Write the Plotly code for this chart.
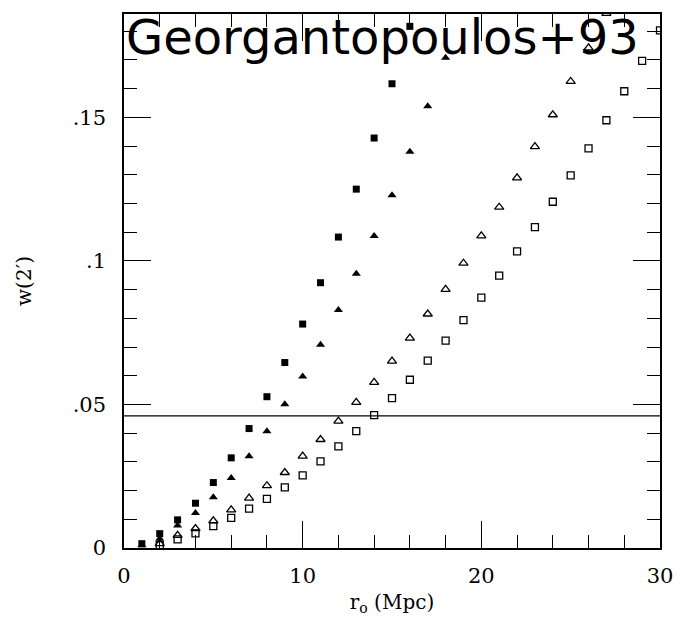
import plotly.graph_objects as go

# r_o (Mpc) values
x_fsq = [1, 2, 3, 4, 5, 6, 7, 8, 9, 10, 11, 12, 13, 14, 15, 16]
y_fsq = [0.0015, 0.0050, 0.0098, 0.0156, 0.0228, 0.0314, 0.0416, 0.0527, 0.0646, 0.0780,
         0.0924, 0.1083, 0.1250, 0.1428, 0.1617, 0.1817]

x_ftri = [1, 2, 3, 4, 5, 6, 7, 8, 9, 10, 11, 12, 13, 14, 15, 16, 17, 18]
y_ftri = [0.0010, 0.0032, 0.0078, 0.0122, 0.0177, 0.0244, 0.0320, 0.0407, 0.0501, 0.0597,
          0.0708, 0.0829, 0.0955, 0.1087, 0.1229, 0.1380, 0.1539, 0.1708]

x_otri = [2, 3, 4, 5, 6, 7, 8, 9, 10, 11, 12, 13, 14, 15, 16, 17, 18, 19, 20, 21, 22, 23,
          24, 25, 26, 27]
y_otri = [0.0015, 0.0044, 0.0068, 0.0095, 0.0133, 0.0174, 0.0217, 0.0263, 0.0320, 0.0378,
          0.0442, 0.0507, 0.0577, 0.0651, 0.0731, 0.0815, 0.0901, 0.0992, 0.1087, 0.1187,
          0.1289, 0.1398, 0.1509, 0.1625, 0.1742, 0.1862]

x_osq = [2, 3, 4, 5, 6, 7, 8, 9, 10, 11, 12, 13, 14, 15, 16, 17, 18, 19, 20, 21, 22, 23,
         24, 25, 26, 27, 28, 29, 30]
y_osq = [0.0010, 0.0030, 0.0051, 0.0076, 0.0105, 0.0137, 0.0171, 0.0211, 0.0253, 0.0302,
         0.0354, 0.0407, 0.0463, 0.0522, 0.0586, 0.0653, 0.0722, 0.0794, 0.0872, 0.0949,
         0.1033, 0.1118, 0.1206, 0.1298, 0.1392, 0.1490, 0.1591, 0.1697, 0.1803]

h_line = 0.046

y_tickvals = [0, 0.05, 0.1, 0.15]
y_ticktext = ["0", ".05", ".1", ".15"]
x_tickvals = [0, 10, 20, 30]
x_ticktext = ["0", "10", "20", "30"]

fig = go.Figure()
fig.add_trace(go.Scatter(x=x_fsq, y=y_fsq, mode="markers",
                         marker=dict(symbol="square", size=7, color="black")))
fig.add_trace(go.Scatter(x=x_ftri, y=y_ftri, mode="markers",
                         marker=dict(symbol="triangle-up", size=8, color="black")))
fig.add_trace(go.Scatter(x=x_otri, y=y_otri, mode="markers",
                         marker=dict(symbol="triangle-up-open", size=8, color="black",
                                     line=dict(width=1.3))))
fig.add_trace(go.Scatter(x=x_osq, y=y_osq, mode="markers",
                         marker=dict(symbol="square-open", size=7, color="black",
                                     line=dict(width=1.3))))

fig.add_shape(type="line", xref="x", yref="y", x0=0, x1=30, y0=h_line, y1=h_line,
              line=dict(color="black", width=1.3))

serif = "DejaVu Serif"
fig.update_layout(
    width=685, height=622,
    margin=dict(l=124, r=17, t=13, b=70),
    paper_bgcolor="white", plot_bgcolor="white",
    showlegend=False,
    title=dict(text="Georgantopoulos+93", font=dict(family="DejaVu Sans", size=48, color="black"),
               x=126 / 685, xanchor="left", xref="container",
               y=1 - 20 / 622, yanchor="top", yref="container", pad=dict(t=0, b=0, l=0, r=0)),
    xaxis=dict(range=[0, 30], tickvals=x_tickvals, ticktext=x_ticktext,
               ticks="inside", ticklen=27, tickwidth=1.3, tickcolor="black",
               minor=dict(ticks="inside", ticklen=13, dtick=2, tickwidth=1.3, tickcolor="black"),
               showline=True, linecolor="black", linewidth=1.5, mirror="ticks",
               showgrid=False, zeroline=False,
               tickfont=dict(family=serif, size=21, color="black"),
               ticklabelstandoff=8,
               title=dict(text="r<sub>o</sub> (Mpc)", font=dict(family=serif, size=20, color="black"),
                          standoff=8)),
    yaxis=dict(range=[0, 0.186], tickvals=y_tickvals, ticktext=y_ticktext,
               ticks="inside", ticklen=27, tickwidth=1.3, tickcolor="black",
               minor=dict(ticks="inside", ticklen=13, dtick=0.01, tickwidth=1.3, tickcolor="black"),
               showline=True, linecolor="black", linewidth=1.5, mirror="ticks",
               showgrid=False, zeroline=False,
               tickfont=dict(family=serif, size=21, color="black"),
               ticklabelstandoff=12,
               title=dict(text="w(2′)", font=dict(family=serif, size=20, color="black"),
                          standoff=36)),
)

fig.write_html("out.html")
